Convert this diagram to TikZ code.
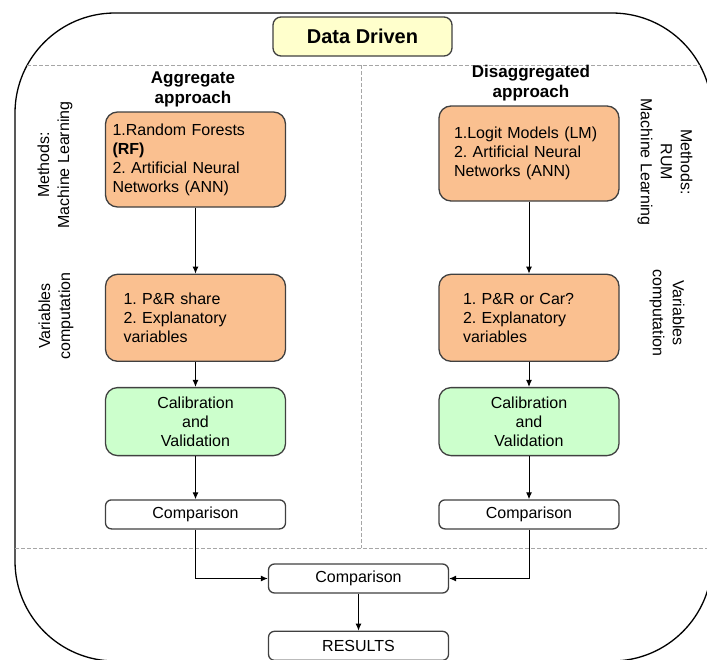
\documentclass[tikz,border=0pt]{standalone}
\usepackage{fontspec}
\setmainfont{Liberation Sans}
\usetikzlibrary{positioning,arrows.meta}
\frenchspacing

\definecolor{boxorange}{HTML}{FAC090}
\definecolor{boxgreen}{HTML}{CCFFCC}
\definecolor{boxyellow}{HTML}{FFFFCC}
\definecolor{boxline}{HTML}{404040}

\begin{document}
\begin{tikzpicture}[x=1pt, y=-1pt,
    base/.style={rectangle, draw=boxline, line width=1.3pt, rounded corners=12pt, font=\fontsize{16}{19}\selectfont},
    method/.style={base, fill=boxorange, minimum width=180pt, minimum height=95pt, align=left},
    vars/.style={base, fill=boxorange, minimum width=180pt, minimum height=87pt, align=left},
    calib/.style={base, fill=boxgreen, minimum width=180pt, minimum height=68pt, align=center, inner ysep=2pt},
    compbox/.style={base, fill=white, rounded corners=6pt, minimum width=180pt, minimum height=29pt, inner ysep=2pt},
    heading/.style={font=\fontsize{17}{20}\selectfont\bfseries, align=center},
    side/.style={font=\fontsize{16}{20}\selectfont, align=center},
    arrow/.style={-{Latex[length=7pt,width=6pt]}, line width=1pt},
    divider/.style={draw=gray!70, line width=1pt, dash pattern=on 4pt off 2pt}
]
    \useasboundingbox (0,0) rectangle (707,659);
    \clip (0,0) rectangle (707,659);

    % 바깥 틀과 구분선
    \draw [line width=1.3pt, rounded corners=100pt] (15,13) rectangle (712,661);
    \draw [divider] (27,65) -- (700,65);
    \draw [divider] (361,65) -- (361,548);
    \draw [divider] (15,548) -- (712,548);

    % 제목
    \node [base, fill=boxyellow, rounded corners=8pt, minimum width=179pt, minimum height=39pt,
        font=\fontsize{20}{24}\selectfont\bfseries] (title) at (362.5,36.5) {Data Driven};

    % 왼쪽 열
    \node [heading] (agghead) at (193,89) {Aggregate\\approach};
    \node [method, text width=166pt] (aggmethods) at (195.5,159.5)
        {1.Random Forests\\\textbf{(RF)}\\2. Artificial Neural\\Networks (ANN)};
    \node [vars, text width=144pt, below=66pt of aggmethods] (aggvars)
        {1. P\&R share\\2. Explanatory\\variables};
    \node [calib, below=25pt of aggvars] (aggcalib) {Calibration\\and\\Validation};
    \node [compbox, below=43pt of aggcalib] (aggcomp) {Comparison};
    \node [side, rotate=90] (aggside1) at (55,165) {Methods:\\Machine Learning};
    \node [side, rotate=90] (aggside2) at (56,316) {Variables\\computation};

    % 오른쪽 열
    \node [heading] (dishead) at (531,83) {Disaggregated\\approach};
    \node [method, text width=150pt] (dismethods) at (529,153.5)
        {1.Logit Models (LM)\\2. Artificial Neural\\Networks (ANN)};
    \node [vars, text width=132pt, below=72pt of dismethods] (disvars)
        {1. P\&R or Car?\\2. Explanatory\\variables};
    \node [calib, below=25pt of disvars] (discalib) {Calibration\\and\\Validation};
    \node [compbox, below=43pt of discalib] (discomp) {Comparison};
    \node [side, rotate=-90] (disside1) at (665,162) {Methods:\\RUM\\Machine Learning};
    \node [side, rotate=-90] (disside2) at (667,313) {Variables\\computation};

    % 아래쪽
    \node [compbox] (comp) at (358.5,578.5) {Comparison};
    \node [compbox, below=37pt of comp] (results) {RESULTS};

    % 연결선
    \draw [arrow] (aggmethods) -- (aggvars);
    \draw [arrow] (aggvars) -- (aggcalib);
    \draw [arrow] (aggcalib) -- (aggcomp);
    \draw [arrow] (dismethods) -- (disvars);
    \draw [arrow] (disvars) -- (discalib);
    \draw [arrow] (discalib) -- (discomp);
    \draw [arrow] (aggcomp.south) |- (comp.west);
    \draw [arrow] (discomp.south) |- (comp.east);
    \draw [arrow] (comp) -- (results);
\end{tikzpicture}
\end{document}
